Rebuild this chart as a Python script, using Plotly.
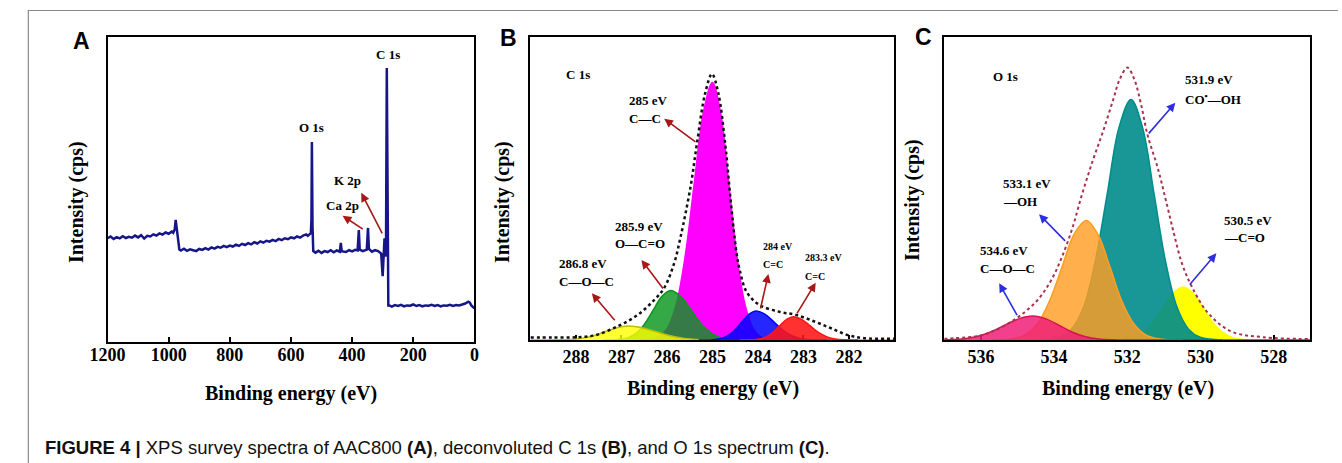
import plotly.graph_objects as go

W, H = 1342, 463

# ---------------- Panel A: XPS survey ----------------
survey_E = [1200, 1190, 1180, 1170, 1160, 1150, 1140, 1130, 1120, 1110, 1100, 1090, 1080, 1070,
            1060, 1050, 1040, 1030, 1020, 1010, 1000, 990, 985, 980, 977, 974, 971, 968, 965,
            960, 950, 940, 930, 920, 910, 900, 890, 880, 870, 860, 850, 840, 830, 820, 810,
            800, 790, 780, 770, 760, 750, 740, 730, 720, 710, 700, 690, 680, 670, 660, 650,
            640, 630, 620, 610, 600, 590, 580, 570, 560, 550, 545, 540, 535, 533, 531.5, 529.5,
            527, 520, 510, 500, 490, 480, 470, 460, 450, 440, 437, 434, 420, 410, 400, 390,
            382, 378, 375, 365, 352, 348, 345, 335, 325, 315, 305, 300, 297, 294, 291, 289,
            286.5, 284, 281.5, 278, 270, 260, 250, 240, 230, 220, 210, 200, 190, 180, 170,
            160, 150, 140, 130, 120, 110, 100, 90, 80, 70, 60, 50, 40, 30, 20, 15, 10, 5, 0]
survey_I = [34.0, 34.6, 33.8, 34.4, 34.0, 34.7, 34.1, 34.5, 34.2, 34.9, 34.3, 35.0, 33.9, 34.8,
            34.6, 35.3, 34.9, 35.6, 35.2, 35.9, 35.5, 36.2, 35.8, 37.0, 40.0, 37.5, 35.0, 31.0, 30.3,
            30.0, 30.6, 29.9, 30.4, 30.1, 29.8, 30.5, 30.2, 30.8, 30.3, 31.0, 30.6, 31.2, 30.9, 31.5, 31.1,
            31.6, 31.3, 31.9, 31.5, 32.2, 31.8, 32.4, 32.0, 32.7, 32.3, 33.0, 32.6, 33.2, 32.9, 33.5, 33.1,
            33.8, 33.4, 34.0, 33.7, 34.3, 34.0, 34.6, 34.2, 34.9, 35.3, 34.8, 35.2, 35.7, 40.0, 65.6, 38.0,
            29.8, 29.3, 29.9, 29.2, 29.8, 29.5, 30.1, 29.4, 30.0, 29.6, 32.5, 29.8, 29.5, 30.1, 29.7, 30.2,
            30.0, 36.7, 30.3, 29.8, 30.3, 37.4, 30.5, 29.6, 30.1, 29.8, 29.0, 21.6, 30.0, 34.0, 28.0, 33.0,
            89.8, 40.0, 12.0, 12.0, 11.6, 12.1, 11.8, 12.2, 11.7, 12.0, 11.9, 12.3, 11.8, 12.1, 11.7,
            12.0, 11.9, 12.2, 11.8, 12.1, 11.7, 12.0, 11.9, 12.2, 11.8, 12.1, 12.0, 12.3, 12.6, 13.2, 12.9, 12.0, 11.3, 11.0]
A_ticks = [1200, 1000, 800, 600, 400, 200, 0]

# ---------------- Panel B: C 1s deconvolution ----------------
B_ticks = [288, 287, 286, 285, 284, 283, 282]
B_magenta_E = [286.6, 286.2, 286.0, 285.8, 285.6, 285.4, 285.2, 285.0, 284.82, 284.64, 284.46, 284.28, 284.10, 283.92, 283.5]
B_magenta_I = [0, 0.9, 3.7, 11.5, 27.6, 51.6, 75.0, 85.0, 75.0, 51.6, 27.6, 11.5, 3.7, 0.9, 0]
B_green_E = [287.4, 287.06, 286.87, 286.68, 286.49, 286.30, 286.11, 285.92, 285.70, 285.47, 285.25, 285.02, 284.80, 284.57, 284.2]
B_green_I = [0, 0.2, 0.7, 2.2, 5.3, 9.9, 14.4, 16.3, 14.4, 9.9, 5.3, 2.2, 0.7, 0.2, 0]
B_yellow_E = [289.0, 288.8, 288.35, 288.10, 287.85, 287.60, 287.35, 287.10, 286.85, 286.55, 286.25, 285.95, 285.65, 285.35, 285.05, 284.6, 281.0]
B_yellow_I = [0, 0, 0.05, 0.2, 0.62, 1.49, 2.79, 4.06, 4.6, 4.06, 2.79, 1.49, 0.62, 0.2, 0.05, 0, 0]
B_blue_E = [285.3, 285.0, 284.84, 284.68, 284.52, 284.36, 284.20, 284.04, 283.84, 283.64, 283.44, 283.24, 283.04, 282.84, 282.5]
B_blue_I = [0, 0.1, 0.42, 1.30, 3.12, 5.82, 8.47, 9.6, 8.47, 5.82, 3.12, 1.30, 0.42, 0.1, 0]
B_red_E = [284.4, 284.12, 283.97, 283.82, 283.67, 283.52, 283.37, 283.22, 283.04, 282.85, 282.67, 282.48, 282.30, 282.11, 281.8]
B_red_I = [0, 0.08, 0.34, 1.04, 2.5, 4.67, 6.8, 7.7, 6.8, 4.67, 2.5, 1.04, 0.34, 0.08, 0]
B_env_E = [289.0, 288.5, 288.0, 287.57, 287.07, 286.64, 286.28, 286.06, 285.84, 285.70, 285.48, 285.34, 285.16,
           285.01, 284.87, 284.72, 284.60, 284.47, 284.40, 284.25, 283.97, 283.53, 283.17, 282.74, 282.38,
           282.02, 281.66, 281.0]
B_env_I = [0.8, 0.8, 0.9, 1.6, 4.6, 8.3, 13.2, 17.2, 25.4, 34.0, 50.6, 64.9, 81.4,
           87.8, 81.4, 64.9, 46.2, 28.7, 23.1, 15.9, 11.6, 9.3, 8.3, 6.0, 3.8,
           1.6, 0.6, 0.4]

# ---------------- Panel C: O 1s deconvolution ----------------
C_ticks = [536, 534, 532, 530, 528]
C_yellow_E = [532.6, 532.13, 531.86, 531.58, 531.31, 531.03, 530.76, 530.48, 530.20, 529.93, 529.66, 529.38, 529.11, 528.83, 528.3]
C_yellow_I = [0, 0.19, 0.77, 2.4, 5.7, 10.6, 15.4, 17.5, 15.4, 10.6, 5.7, 2.4, 0.77, 0.19, 0]
C_teal_E = [534.4, 533.85, 533.53, 533.20, 532.88, 532.55, 532.23, 531.9, 531.585, 531.27, 530.955, 530.64, 530.325, 530.01, 529.4]
C_teal_I = [0, 0.9, 3.5, 10.7, 25.8, 48.2, 70.1, 79.4, 70.1, 48.2, 25.8, 10.7, 3.5, 0.9, 0]
C_orange_E = [535.7, 535.13, 534.80, 534.46, 534.13, 533.79, 533.46, 533.12, 532.80, 532.47, 532.15, 531.82, 531.50, 531.17, 530.5]
C_orange_I = [0, 0.44, 1.7, 5.3, 12.8, 23.9, 34.8, 39.4, 34.8, 23.9, 12.8, 5.3, 1.7, 0.44, 0]
C_pink_E = [537.0, 536.92, 536.53, 536.14, 535.75, 535.36, 534.97, 534.58, 534.22, 533.86, 533.50, 533.14, 532.78, 532.42, 531.8, 527.0]
C_pink_I = [0.05, 0.09, 0.35, 1.07, 2.57, 4.79, 6.97, 7.9, 6.97, 4.79, 2.57, 1.07, 0.35, 0.09, 0, 0]
C_env_E = [537.0, 536.7, 535.97, 535.44, 534.9, 534.45, 534.09, 533.8, 533.5, 533.24, 532.95, 532.66,
           532.39, 532.21, 532.0, 531.81, 531.63, 531.45, 531.18, 530.95, 530.73, 530.51, 530.24,
           529.79, 529.16, 528.27, 527.0]
C_env_I = [0.4, 0.6, 1.6, 4.2, 8.3, 13.2, 19.5, 27.0, 37.0, 48.0, 59.0, 69.0,
           79.2, 86.0, 89.9, 86.0, 78.0, 67.7, 57.2, 46.2, 35.2, 25.3, 17.6,
           8.8, 2.8, 0.9, 0.3]

SERIF = "Liberation Serif"
SANS = "Liberation Sans"


def px(x):
    return x / W


def py(y):
    return 1 - y / H


fig = go.Figure()

fig.add_trace(go.Scatter(x=survey_E, y=survey_I, mode="lines",
                         line=dict(color="#16168a", width=2.5),
                         xaxis="x", yaxis="y", showlegend=False, hoverinfo="skip"))

B_components = [
    (B_magenta_E, B_magenta_I, "rgba(255,0,255,1)", "rgb(255,0,255)"),
    (B_green_E, B_green_I, "rgba(10,150,30,0.82)", "rgb(10,150,30)"),
    (B_yellow_E, B_yellow_I, "rgba(255,255,0,0.8)", "rgb(190,190,0)"),
    (B_blue_E, B_blue_I, "rgba(0,0,255,0.85)", "rgb(0,0,255)"),
    (B_red_E, B_red_I, "rgba(255,20,20,0.88)", "rgb(255,20,20)"),
]
for e, i, fc, lc in B_components:
    fig.add_trace(go.Scatter(x=e, y=i, mode="lines", fill="tozeroy", fillcolor=fc,
                             line=dict(color=lc, width=1.5, shape="spline"),
                             xaxis="x2", yaxis="y2", showlegend=False, hoverinfo="skip"))
fig.add_trace(go.Scatter(x=B_env_E, y=B_env_I, mode="lines",
                         line=dict(color="#111111", width=2.5, dash="dot", shape="spline"),
                         xaxis="x2", yaxis="y2", showlegend=False, hoverinfo="skip"))

C_components = [
    (C_yellow_E, C_yellow_I, "rgba(255,255,0,1)", "rgb(255,255,0)"),
    (C_teal_E, C_teal_I, "rgba(0,140,140,0.9)", "rgb(0,140,140)"),
    (C_orange_E, C_orange_I, "rgba(255,158,35,0.82)", "rgb(255,158,35)"),
    (C_pink_E, C_pink_I, "rgba(240,30,120,0.85)", "rgb(215,20,80)"),
]
for e, i, fc, lc in C_components:
    fig.add_trace(go.Scatter(x=e, y=i, mode="lines", fill="tozeroy", fillcolor=fc,
                             line=dict(color=lc, width=1.5, shape="spline"),
                             xaxis="x3", yaxis="y3", showlegend=False, hoverinfo="skip"))
fig.add_trace(go.Scatter(x=C_env_E, y=C_env_I, mode="lines",
                         line=dict(color="#a8324e", width=2, dash="dot", shape="spline"),
                         xaxis="x3", yaxis="y3", showlegend=False, hoverinfo="skip"))

tickfont = dict(family=SERIF, size=18, color="black", weight="bold")


def xax(domain, rng, ticks, anchor, layer="above traces", standoff=0):
    return dict(domain=domain, range=rng, tickvals=ticks, ticks="inside", ticklen=5,
                tickwidth=1.5, tickcolor="black", showline=True, linecolor="black",
                linewidth=2, mirror=True, showgrid=False, zeroline=False,
                tickfont=tickfont, anchor=anchor, layer=layer, fixedrange=True,
                ticklabelstandoff=standoff)


def yax(domain, anchor):
    return dict(domain=domain, range=[0, 100], showticklabels=False, ticks="",
                showline=True, linecolor="black", linewidth=2, mirror=True,
                showgrid=False, zeroline=False, anchor=anchor, fixedrange=True)


yd_A = [py(342), py(37)]
yd_BC = [py(340), py(37)]

ann = []


def text(x, y, s, xref, yref, size=13, anchor="left", family=SERIF, bold=True):
    ann.append(dict(x=x, y=y, xref=xref, yref=yref, text=s, showarrow=False,
                    xanchor=anchor, yanchor="middle",
                    font=dict(family=family, size=size, color="black",
                              weight="bold" if bold else "normal")))


def arrow(tail, head, xref, yref, color):
    ann.append(dict(x=head[0], y=head[1], ax=tail[0], ay=tail[1], xref=xref, yref=yref,
                    axref=xref, ayref=yref, text="", showarrow=True, arrowhead=2,
                    arrowsize=1.1, arrowwidth=1.6, arrowcolor=color))


RED = "#a81818"
BLUE = "#2e2ee0"

# Panel A labels
text(283, 94.4, "C 1s", "x", "y", anchor="center")
text(534, 70.2, "O 1s", "x", "y", anchor="center")
text(415, 53.1, "K 2p", "x", "y", anchor="center")
text(431, 44.6, "Ca 2p", "x", "y", anchor="center")
arrow((299, 35.1), (370, 48.9), "x", "y", RED)
arrow((360, 36.7), (431, 41.4), "x", "y", RED)

# Panel B labels
text(288.26, 87.5, "C 1s", "x2", "y2")
text(286.87, 79.2, "285 eV", "x2", "y2")
text(286.87, 73.2, "C—C", "x2", "y2")
text(287.18, 37.4, "285.9 eV", "x2", "y2")
text(287.18, 31.9, "O—C=O", "x2", "y2")
text(288.42, 25.3, "286.8 eV", "x2", "y2")
text(288.42, 19.2, "C—O—C", "x2", "y2")
text(283.93, 30.8, "284 eV", "x2", "y2", size=10)
text(283.93, 24.8, "C=C", "x2", "y2", size=10)
text(283.0, 27.2, "283.3 eV", "x2", "y2", size=10)
text(283.0, 21.1, "C=C", "x2", "y2", size=10)
arrow((285.34, 65.0), (286.06, 73.0), "x2", "y2", RED)
arrow((286.06, 16.5), (286.56, 26.4), "x2", "y2", RED)
arrow((287.12, 6.0), (287.65, 15.4), "x2", "y2", RED)
arrow((283.95, 9.9), (283.77, 21.8), "x2", "y2", RED)
arrow((283.16, 8.3), (282.73, 18.9), "x2", "y2", RED)

# Panel C labels
text(535.73, 86.9, "O 1s", "x3", "y3")
text(530.49, 86.1, "531.9 eV", "x3", "y3")
text(530.49, 79.5, "CO<sup>•</sup>—OH", "x3", "y3")
text(535.44, 51.7, "533.1 eV", "x3", "y3")
text(535.44, 45.6, "—OH", "x3", "y3")
text(536.08, 29.7, "534.6 eV", "x3", "y3")
text(536.08, 23.7, "C—O—C", "x3", "y3")
text(529.41, 39.6, "530.5 eV", "x3", "y3")
text(529.41, 33.8, "—C=O", "x3", "y3")
arrow((531.45, 67.7), (530.69, 78.3), "x3", "y3", BLUE)
arrow((533.66, 32.2), (534.41, 41.5), "x3", "y3", BLUE)
arrow((534.99, 7.7), (535.50, 18.7), "x3", "y3", BLUE)
arrow((530.33, 17.8), (529.57, 28.6), "x3", "y3", BLUE)

# Panel letters
for xx, yy, s in [(65, 41, "A"), (499, 38, "B"), (921, 37, "C")]:
    text(px(xx), py(yy), s, "paper", "paper", size=23, anchor="center", family=SANS)

# Axis titles
for xx, yy in [(277.5, 393), (706.7, 388), (1128, 388)]:
    text(px(xx), py(yy), "Binding energy (eV)", "paper", "paper", size=20, anchor="center")
for xx, yy in [(59, 202), (492, 202), (909, 200)]:
    ann.append(dict(x=px(xx), y=py(yy), xref="paper", yref="paper", text="Intensity (cps)",
                    showarrow=False, textangle=-90, xanchor="center", yanchor="middle",
                    font=dict(family=SERIF, size=20, color="black", weight="bold")))

# Caption
ann.append(dict(x=px(25), y=py(447), xref="paper", yref="paper", showarrow=False,
                xanchor="left", yanchor="middle",
                text="<b>FIGURE 4 |</b> XPS survey spectra of AAC800 <b>(A)</b>, deconvoluted C 1s "
                     "<b>(B)</b>, and O 1s spectrum <b>(C)</b>.",
                font=dict(family=SANS, size=18.5, color="#111111")))

fig.update_layout(
    width=W, height=H, margin=dict(l=0, r=0, t=0, b=0),
    paper_bgcolor="white", plot_bgcolor="white", showlegend=False,
    xaxis=xax([px(91), px(464)], [1200, 0], A_ticks, "y", standoff=-5),
    yaxis=yax(yd_A, "x"),
    xaxis2=xax([px(521), px(891)], [289, 281], B_ticks, "y2", layer="below traces", standoff=-1),
    yaxis2=yax(yd_BC, "x2"),
    xaxis3=xax([px(941.7), px(1314)], [537, 527], C_ticks, "y3", layer="below traces", standoff=-1),
    yaxis3=yax(yd_BC, "x3"),
    annotations=ann,
    shapes=[
        dict(type="line", xref="paper", yref="paper", x0=px(10), x1=1, y0=py(10.5), y1=py(10.5),
             line=dict(color="#8a8a8a", width=1.2)),
        dict(type="line", xref="paper", yref="paper", x0=px(10.5), x1=px(10.5), y0=py(10), y1=0,
             line=dict(color="#8a8a8a", width=1.2)),
    ],
)

fig.write_html("out.html")
